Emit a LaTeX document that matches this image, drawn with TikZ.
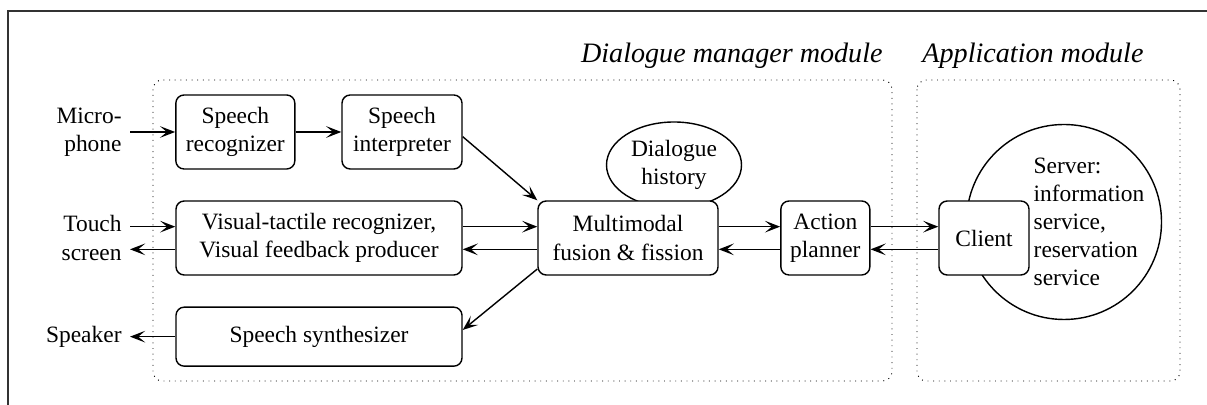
\documentclass[tikz,border=0pt]{standalone}
\usepackage{fontspec}
\setmainfont{Liberation Serif}
\usetikzlibrary{shapes.geometric,arrows.meta}
\begin{document}
\begin{tikzpicture}[
		box/.style={draw, semithick, rounded corners=3.5pt, fill=white, align=center, minimum height=1.11cm, inner sep=2pt},
		lbl/.style={align=right, anchor=east, inner sep=3.4pt},
		area/.style={dotted, rounded corners=4pt},
		title/.style={font=\large\itshape, inner sep=0pt},
		conn/.style={-{Stealth[length=6.5pt, width=5pt, inset=3pt]}, semithick}]
		\useasboundingbox (0,0) rectangle (18.105,-6.075);
		\draw[black!80, line width=0.6pt] (0.12,-6.2) -- (0.12,-0.165) -- (18.2,-0.165);
		% module areas
		\draw[area] (2.295,-1.2) rectangle (13.38,-5.715);
		\draw[area] (13.755,-1.2) rectangle (17.7,-5.715);
		\node[title, anchor=base east] (dmtitle) at (13.245,-0.945) {Dialogue manager module};
		\node[title, anchor=base west] (apptitle) at (13.83,-0.945) {Application module};
		% devices
		\node[lbl] (mic) at (1.95,-1.98) {Micro-\\phone};
		\node[lbl] (touch) at (1.95,-3.57) {Touch\\screen};
		\node[lbl] (spk) at (1.95,-5.05) {Speaker};
		% components
		\node[ellipse, draw, semithick, minimum width=2.025cm, minimum height=1.29cm, align=center, inner sep=0pt] (history) at (10.11,-2.475) {Dialogue\\history};
		\node[circle, draw, semithick, minimum size=2.925cm] (server) at (15.96,-3.33) {};
		\node[align=left, inner sep=0pt] (servertext) at (16.335,-3.33) {Server:\\information\\service,\\reservation\\service};
		\node[box, minimum width=1.785cm] (recog) at (3.53,-1.98) {Speech\\recognizer};
		\node[box, minimum width=1.8cm] (interp) at (6.03,-1.98) {Speech\\interpreter};
		\node[box, minimum width=4.29cm] (vistac) at (4.785,-3.57) {Visual-tactile recognizer,\\Visual feedback producer};
		\node[box, minimum width=4.29cm, minimum height=0.885cm] (synth) at (4.785,-5.05) {Speech synthesizer};
		\node[box, minimum width=2.7cm] (fusion) at (9.42,-3.57) {Multimodal\\fusion \& fission};
		\node[box, minimum width=1.335cm] (planner) at (12.38,-3.57) {Action\\planner};
		\node[box, minimum width=1.35cm] (client) at (14.76,-3.57) {Client};
		% connections
		\draw[conn] (mic.east) -- (recog.west);
		\draw[conn] (recog.east) -- (interp.west);
		\draw[conn] ([yshift=-0.07cm]interp.east) -- (fusion.north west);
		\draw[conn] ([yshift=0.17cm]touch.east) -- ([yshift=0.17cm]vistac.west);
		\draw[conn] ([yshift=-0.17cm]vistac.west) -- ([yshift=-0.17cm]touch.east);
		\draw[conn] ([yshift=0.17cm]vistac.east) -- ([yshift=0.17cm]fusion.west);
		\draw[conn] ([yshift=-0.17cm]fusion.west) -- ([yshift=-0.17cm]vistac.east);
		\draw[conn] ([yshift=0.1cm]fusion.south west) -- ([yshift=0.1cm]synth.east);
		\draw[conn] (synth.west) -- (spk.east);
		\draw[conn] ([yshift=0.17cm]fusion.east) -- ([yshift=0.17cm]planner.west);
		\draw[conn] ([yshift=-0.17cm]planner.west) -- ([yshift=-0.17cm]fusion.east);
		\draw[conn] ([yshift=0.17cm]planner.east) -- ([yshift=0.17cm]client.west);
		\draw[conn] ([yshift=-0.17cm]client.west) -- ([yshift=-0.17cm]planner.east);
	\end{tikzpicture}
\end{document}
